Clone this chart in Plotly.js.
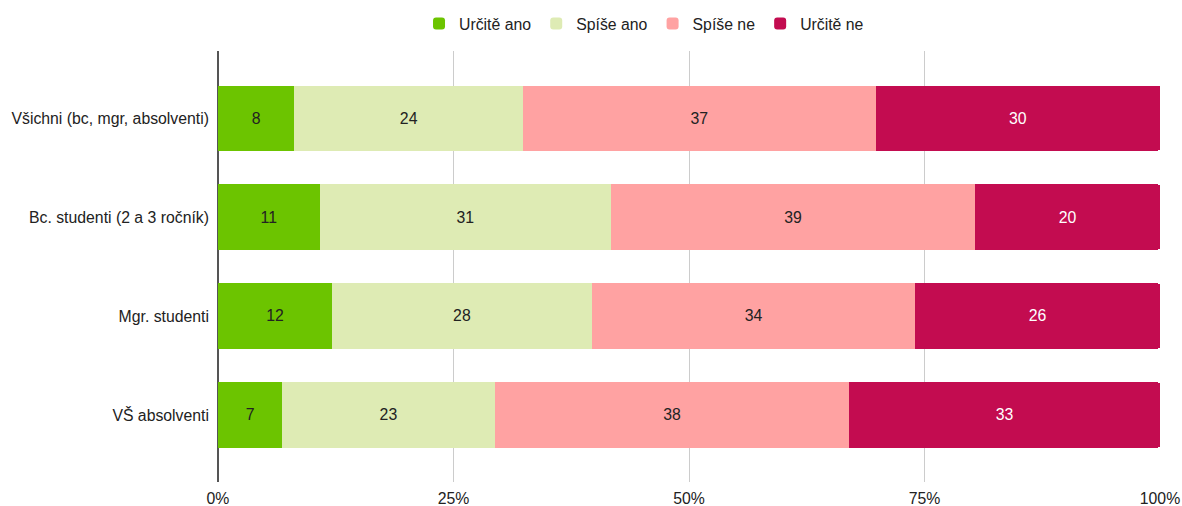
<!DOCTYPE html>
<html>
<head>
<meta charset="utf-8">
<script src="https://cdn.plot.ly/plotly-3.0.1.min.js"></script>
<style>html,body{margin:0;padding:0;background:#fff;}#chart{width:1182px;height:506px;}</style>
</head>
<body>
<div id="chart"></div>
<script>
const categories = ["Všichni (bc, mgr, absolventi)", "Bc. studenti (2 a 3 ročník)", "Mgr. studenti", "VŠ absolventi"];
const seriesNames = ["Určitě ano", "Spíše ano", "Spíše ne", "Určitě ne"];
const urciteAno = [8.1, 10.8, 12.1, 6.8];
const spiseAno = [24.3, 30.9, 27.6, 22.6];
const spiseNe = [37.4, 38.7, 34.3, 37.6];
const urciteNe = [30.2, 19.6, 26.0, 33.0];
const tickVals = [0, 25, 50, 75, 100];
const tickLabels = ["0%", "25%", "50%", "75%", "100%"];

const seriesValues = [urciteAno, spiseAno, spiseNe, urciteNe];
const colors = ["#6cc400", "#deebb4", "#ffa2a2", "#c30c50"];
const textColors = ["#222222", "#222222", "#222222", "#ffffff"];
const FONT = "Liberation Sans, Arial, sans-serif";
const FS = 15.8;

const traces = seriesValues.map((vals, i) => ({
  type: "bar",
  orientation: "h",
  name: seriesNames[i],
  y: categories,
  x: vals,
  marker: {color: colors[i], line: {width: 0}},
  texttemplate: "%{x:.0f}",
  textposition: "inside",
  insidetextanchor: "middle",
  textfont: {size: FS, color: textColors[i], family: FONT},
  constraintext: "none",
  hoverinfo: "skip"
}));

const layout = {
  width: 1182, height: 506,
  barmode: "stack",
  bargap: 0.343,
  barcornerradius: 2,
  margin: {l: 218, r: 22, t: 51, b: 24, autoexpand: false},
  paper_bgcolor: "#fff", plot_bgcolor: "#fff",
  font: {family: FONT, size: FS, color: "#222"},
  showlegend: true,
  legend: {
    orientation: "h", x: 0.2134, xanchor: "left", y: 1.063, yanchor: "middle",
    font: {size: FS, color: "#222"}, traceorder: "normal", bgcolor: "rgba(0,0,0,0)"
  },
  xaxis: {
    range: [0, 100], tickmode: "array", tickvals: tickVals, ticktext: tickLabels,
    showgrid: true, gridcolor: "#cccccc", gridwidth: 1,
    zeroline: true, zerolinecolor: "#555555", zerolinewidth: 1.5,
    showline: false, ticks: "", ticklabelstandoff: 5,
    tickfont: {size: FS, color: "#222"},
    fixedrange: true
  },
  yaxis: {
    type: "category",
    range: [3.677, -0.677],
    showgrid: false, zeroline: false, showline: false, ticks: "",
    ticklabelstandoff: 8,
    tickfont: {size: FS, color: "#222"},
    fixedrange: true
  }
};

Plotly.newPlot("chart", traces, layout, {displayModeBar: false, staticPlot: true});
</script>
</body>
</html>
